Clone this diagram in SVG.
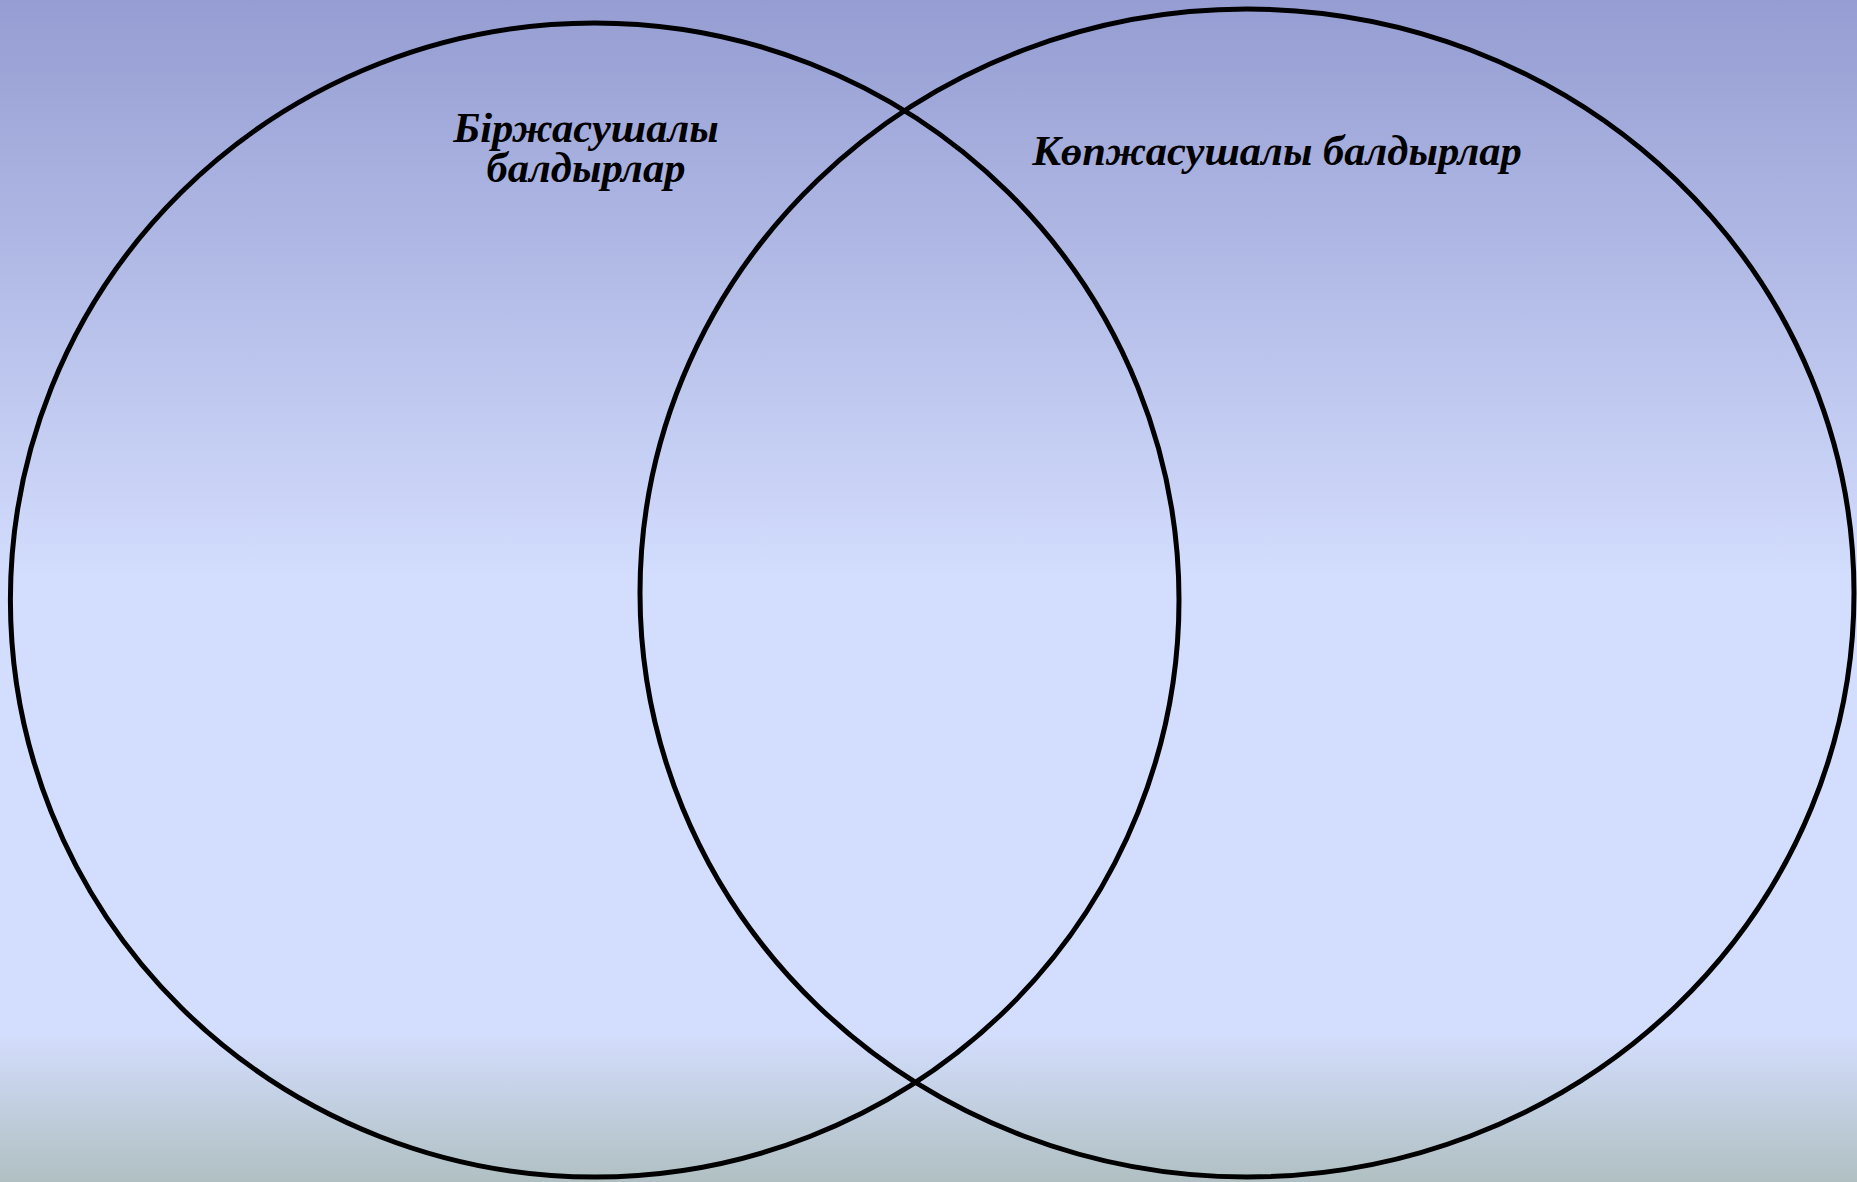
<svg xmlns="http://www.w3.org/2000/svg" width="1857" height="1182" viewBox="0 0 1857 1182">
<defs>
<linearGradient id="bg" x1="0" y1="0" x2="0" y2="1">
<stop offset="0" stop-color="#959dd2"/>
<stop offset="0.49" stop-color="#d3ddfd"/>
<stop offset="0.875" stop-color="#d3ddfd"/>
<stop offset="1" stop-color="#b0c0c2"/>
</linearGradient>
<style>
.ring{fill:none;stroke:#000;stroke-width:5}
.lbl{font-family:"Liberation Serif","Times New Roman",serif;font-weight:bold;font-style:italic;font-size:42.5px;fill:#000;text-anchor:middle}
</style>
</defs>
<rect x="0" y="0" width="1857" height="1182" fill="url(#bg)"/>
<g id="left-set">
<ellipse class="ring" cx="594.7" cy="600" rx="584.3" ry="577"/>
<text class="lbl" x="586" y="142"><tspan x="586" y="142">Біржасушалы</tspan><tspan x="586" y="182">балдырлар</tspan></text>
</g>
<g id="right-set">
<ellipse class="ring" cx="1247" cy="593" rx="607" ry="584"/>
<text class="lbl" x="1277" y="165">Көпжасушалы балдырлар</text>
</g>
<g id="connectors"></g>
</svg>
